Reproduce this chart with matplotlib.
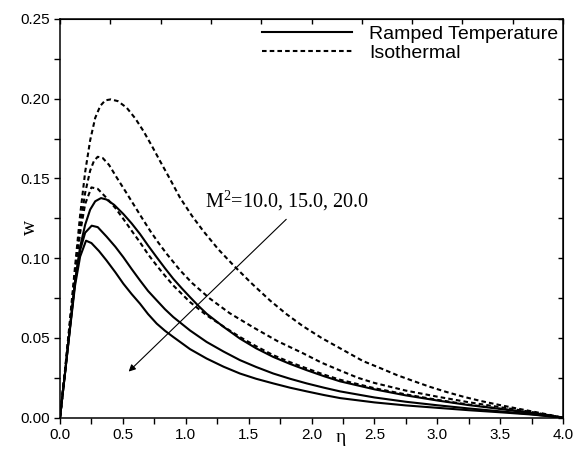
import matplotlib
matplotlib.use("Agg")
import matplotlib.pyplot as plt
import numpy as np

# values (eta, w); M^2 = 10, 15, 20
eta_ramp_10 = [0, 0.04, 0.08, 0.12, 0.16, 0.2, 0.24, 0.28, 0.326, 0.37, 0.43, 0.504, 0.57, 0.636, 0.7,
               0.769, 0.835, 0.901, 0.97, 1.034, 1.1, 1.166, 1.3, 1.431, 1.56, 1.696, 1.83, 1.962, 2.1,
               2.227, 2.5, 2.75, 3.0, 3.25, 3.5, 3.75, 4.0]
w_ramp_10 = [0, 0.028, 0.057, 0.086, 0.107, 0.121, 0.1305, 0.1357, 0.1377, 0.1368, 0.1335, 0.1277, 0.1218,
             0.1152, 0.108, 0.1006, 0.0937, 0.0871, 0.081, 0.0756, 0.0702, 0.0652, 0.057, 0.0496, 0.0435,
             0.0381, 0.0337, 0.0298, 0.026, 0.0228, 0.0178, 0.0140, 0.0108, 0.0079, 0.0055, 0.003, 0]

eta_ramp_15 = [0, 0.04, 0.08, 0.12, 0.16, 0.2, 0.252, 0.3, 0.371, 0.44, 0.504, 0.57, 0.636, 0.7, 0.769,
               0.835, 0.901, 1.034, 1.166, 1.3, 1.431, 1.56, 1.696, 1.83, 1.962, 2.1, 2.227, 2.5, 2.75,
               3.0, 3.25, 3.5, 3.75, 4.0]
w_ramp_15 = [0, 0.028, 0.057, 0.085, 0.105, 0.116, 0.1204, 0.1195, 0.1135, 0.1072, 0.1006, 0.0932, 0.0861,
             0.0795, 0.0736, 0.068, 0.0631, 0.0547, 0.0475, 0.0415, 0.0361, 0.0318, 0.0277, 0.0244,
             0.0215, 0.0188, 0.0165, 0.0127, 0.0100, 0.0078, 0.0058, 0.004, 0.0022, 0]

eta_ramp_20 = [0, 0.04, 0.08, 0.12, 0.16, 0.207, 0.25, 0.31, 0.37, 0.44, 0.504, 0.57, 0.636, 0.7, 0.769,
               0.835, 0.901, 1.034, 1.166, 1.3, 1.431, 1.56, 1.696, 1.83, 1.962, 2.1, 2.227, 2.5, 2.75,
               3.0, 3.25, 3.5, 3.75, 4.0]
w_ramp_20 = [0, 0.028, 0.056, 0.083, 0.101, 0.111, 0.1095, 0.1045, 0.0986, 0.0912, 0.084, 0.0775, 0.0715,
             0.065, 0.059, 0.0545, 0.0506, 0.043, 0.0371, 0.032, 0.0277, 0.0244, 0.0215, 0.0188, 0.0165,
             0.0142, 0.0123, 0.0096, 0.0077, 0.0062, 0.0047, 0.0034, 0.002, 0]

eta_iso_10 = [0, 0.04, 0.08, 0.12, 0.16, 0.2, 0.24, 0.28, 0.32, 0.36, 0.405, 0.46, 0.53, 0.6, 0.663, 0.73,
              0.795, 0.875, 0.954, 1.05, 1.14, 1.26, 1.38, 1.52, 1.67, 1.8, 1.93, 2.08, 2.23, 2.41, 2.55,
              2.68, 2.81, 2.94, 3.07, 3.21, 3.35, 3.5, 3.62, 3.75, 3.88, 4.0]
w_iso_10 = [0, 0.03, 0.062, 0.095, 0.127, 0.154, 0.174, 0.188, 0.1955, 0.199, 0.1996, 0.1985, 0.1944,
            0.1875, 0.1798, 0.1705, 0.161, 0.1496, 0.138, 0.1265, 0.117, 0.1055, 0.0955, 0.0845, 0.0735,
            0.065, 0.0575, 0.05, 0.0434, 0.0355, 0.031, 0.0267, 0.023, 0.0194, 0.0162, 0.0131, 0.0104,
            0.0079, 0.006, 0.004, 0.002, 0]

eta_iso_15 = [0, 0.04, 0.08, 0.12, 0.16, 0.2, 0.24, 0.27, 0.3, 0.34, 0.39, 0.451, 0.52, 0.583, 0.65, 0.716,
              0.78, 0.848, 0.954, 1.05, 1.19, 1.35, 1.54, 1.73, 1.93, 2.08, 2.23, 2.37, 2.5, 2.75, 3.0,
              3.25, 3.5, 3.75, 4.0]
w_iso_15 = [0, 0.029, 0.06, 0.092, 0.12, 0.141, 0.155, 0.161, 0.1636, 0.1628, 0.1585, 0.1506, 0.142,
            0.134, 0.1255, 0.1173, 0.11, 0.1028, 0.0925, 0.0845, 0.0748, 0.0655, 0.0565, 0.048, 0.0405,
            0.0345, 0.0295, 0.025, 0.0218, 0.017, 0.0132, 0.0097, 0.0066, 0.0036, 0]

eta_iso_20 = [0, 0.04, 0.08, 0.12, 0.16, 0.2, 0.25, 0.3, 0.37, 0.44, 0.504, 0.57, 0.636, 0.7, 0.769, 0.835,
              0.901, 1.034, 1.166, 1.3, 1.431, 1.56, 1.696, 1.83, 1.962, 2.1, 2.227, 2.5, 2.75, 3.0,
              3.25, 3.5, 3.75, 4.0]
w_iso_20 = [0, 0.029, 0.059, 0.09, 0.116, 0.134, 0.1444, 0.1435, 0.1378, 0.1315, 0.1246, 0.1172, 0.11,
            0.1025, 0.0954, 0.089, 0.0829, 0.0725, 0.0642, 0.0572, 0.0506, 0.0448, 0.0392, 0.0348,
            0.0309, 0.027, 0.0238, 0.0185, 0.0146, 0.0112, 0.0082, 0.0057, 0.0031, 0]

legend_labels = ["Ramped Temperature", "Isothermal"]
annot_text = r"M$^{\mathregular{2}}$=10.0, 15.0, 20.0"

plt.rcParams["font.family"] = ["Liberation Sans", "DejaVu Sans"]
plt.rcParams["mathtext.fontset"] = "custom"
plt.rcParams["mathtext.rm"] = "Liberation Serif"

fig = plt.figure(figsize=(5.76, 4.5), dpi=100)
ax = fig.add_axes([60 / 576, 1 - 417.7 / 450, 503 / 576, 398.7 / 450])

dash = (0, (2.2, 1.5))
ramp = [(eta_ramp_10, w_ramp_10), (eta_ramp_15, w_ramp_15), (eta_ramp_20, w_ramp_20)]
iso = [(eta_iso_10, w_iso_10), (eta_iso_15, w_iso_15), (eta_iso_20, w_iso_20)]
for i, (x, y) in enumerate(ramp):
    ax.plot(x, y, color="black", lw=1.5, label=legend_labels[0] if i == 0 else None)
for i, (x, y) in enumerate(iso):
    ax.plot(x, y, color="black", lw=1.5, linestyle=dash, label=legend_labels[1] if i == 0 else None)

ax.set_xlim(0, 4.0)
ax.set_ylim(0, 0.25)
ax.set_xticks(np.arange(0, 4.01, 0.5))
ax.set_xticks(np.arange(0, 4.01, 0.25), minor=True)
ax.set_yticks(np.arange(0, 0.251, 0.05))
ax.set_yticks(np.arange(0, 0.251, 0.025), minor=True)
ax.xaxis.set_major_formatter(matplotlib.ticker.FormatStrFormatter("%.1f"))
ax.yaxis.set_major_formatter(matplotlib.ticker.FormatStrFormatter("%.2f"))
ax.tick_params(which="both", direction="out", length=4.5, width=1.0, labelsize=11, pad=3)
for sp in ax.spines.values():
    sp.set_linewidth(1.1)

# mirrored inward ticks on top and right
top = ax.secondary_xaxis("top")
top.set_xticks(np.arange(0, 4.01, 0.4))
top.tick_params(direction="in", length=3.5, width=1.0, labeltop=False)
right = ax.secondary_yaxis("right")
right.set_yticks(np.arange(0, 0.251, 0.025))
right.tick_params(direction="in", length=3.5, width=1.0, labelright=False)

ax.set_xlabel("η", family="Liberation Serif", fontsize=14)
ax.xaxis.set_label_coords(0.559, -0.028)
ax.set_ylabel("w", family="Liberation Serif", fontsize=15)
ax.yaxis.set_label_coords(-0.04, 0.476)

ax.annotate("", xy=(0.53, 0.0277), xytext=(1.815, 0.1256),
            arrowprops=dict(arrowstyle="-|>", color="black", lw=0.8, mutation_scale=10))
ax.text(1.155, 0.132, annot_text, family="Liberation Serif", fontsize=14.5, va="baseline")

ax.legend(loc="upper left", bbox_to_anchor=(0.383, 1.008), frameon=False, fontsize=14,
          handlelength=4.6, handletextpad=0.9, labelspacing=0.05, borderpad=0)

fig.savefig("out.png", dpi=100)
